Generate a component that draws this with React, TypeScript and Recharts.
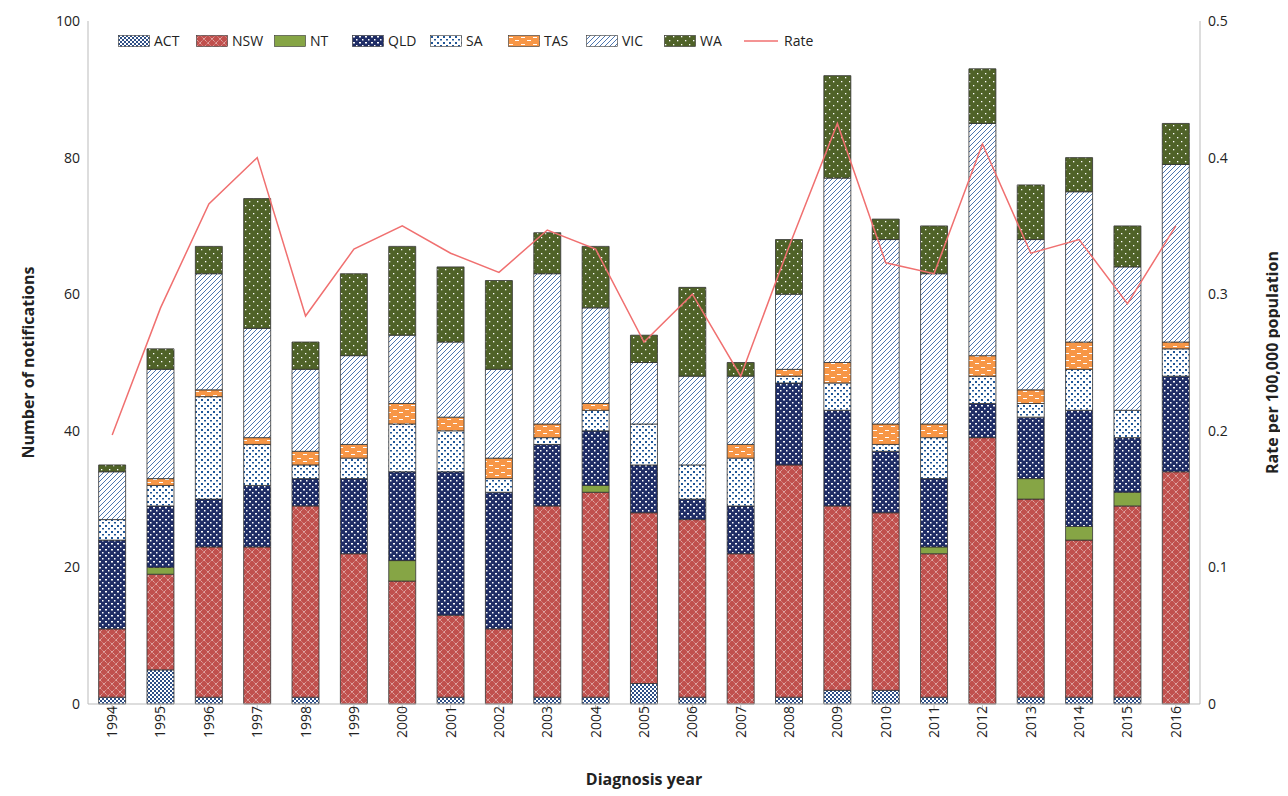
import { ComposedChart, Bar, Line, XAxis, YAxis } from "recharts";

const years = ["1994","1995","1996","1997","1998","1999","2000","2001","2002","2003","2004","2005","2006","2007","2008","2009","2010","2011","2012","2013","2014","2015","2016"];
const act = [1,5,1,0,1,0,0,1,0,1,1,3,1,0,1,2,2,1,0,1,1,1,0];
const nsw = [10,14,22,23,28,22,18,12,11,28,30,25,26,22,34,27,26,21,39,29,23,28,34];
const nt = [0,1,0,0,0,0,3,0,0,0,1,0,0,0,0,0,0,1,0,3,2,2,0];
const qld = [13,9,7,9,4,11,13,21,20,9,8,7,3,7,12,14,9,10,5,9,17,8,14];
const sa = [3,3,15,6,2,3,7,6,2,1,3,6,5,7,1,4,1,6,4,2,6,4,4];
const tas = [0,1,1,1,2,2,3,2,3,2,1,0,0,2,1,3,3,2,3,2,4,0,1];
const vic = [7,16,17,16,12,13,10,11,13,22,14,9,13,10,11,27,27,22,34,22,22,21,26];
const wa = [1,3,4,19,4,12,13,11,13,6,9,4,13,2,8,15,3,7,8,8,5,6,6];
const rate = [0.197,0.29,0.366,0.4,0.284,0.333,0.35,0.33,0.316,0.347,0.333,0.265,0.3,0.24,0.335,0.425,0.323,0.315,0.41,0.33,0.34,0.293,0.35];

const data = years.map((y, i) => ({
  year: y, ACT: act[i], NSW: nsw[i], NT: nt[i], QLD: qld[i], SA: sa[i], TAS: tas[i], VIC: vic[i], WA: wa[i], Rate: rate[i],
}));

const series = [
  { key: "ACT", fill: "url(#pAct)" },
  { key: "NSW", fill: "url(#pNsw)" },
  { key: "NT", fill: "#86A545" },
  { key: "QLD", fill: "url(#pQld)" },
  { key: "SA", fill: "url(#pSa)" },
  { key: "TAS", fill: "url(#pTas)" },
  { key: "VIC", fill: "url(#pVic)" },
  { key: "WA", fill: "url(#pWa)" },
];

const font = "'Open Sans', 'Liberation Sans', sans-serif";

function Patterns() {
  return (
    <svg width={0} height={0} style={{ position: "absolute" }}>
      <defs>
        <pattern id="pAct" width={4} height={4} patternUnits="userSpaceOnUse">
          <rect width={4} height={4} fill="#fff" />
          <rect width={2} height={2} fill="#2E4F86" />
          <rect x={2} y={2} width={2} height={2} fill="#2E4F86" />
        </pattern>
        <pattern id="pNsw" width={8} height={8} patternUnits="userSpaceOnUse">
          <rect width={8} height={8} fill="#C0504D" />
          <path d="M0 4 L4 0 L8 4 L4 8 Z" fill="none" stroke="#fff" strokeWidth={0.7} strokeDasharray="1 1" />
        </pattern>
        <pattern id="pQld" width={6} height={6} patternUnits="userSpaceOnUse">
          <rect width={6} height={6} fill="#1F2D66" />
          <rect x={1} y={1} width={2} height={1.5} fill="#fff" />
          <rect x={4} y={4} width={1.5} height={1.5} fill="#fff" />
        </pattern>
        <pattern id="pSa" width={6} height={6} patternUnits="userSpaceOnUse">
          <rect width={6} height={6} fill="#fff" />
          <rect x={1} y={1} width={2} height={2} fill="#1F5597" />
          <rect x={4} y={4} width={2} height={1.5} fill="#1F5597" />
        </pattern>
        <pattern id="pTas" width={12} height={7} patternUnits="userSpaceOnUse">
          <rect width={12} height={7} fill="#F79646" />
          <rect x={1} y={2} width={4} height={1} fill="#fff" />
          <rect x={7} y={5} width={4} height={1} fill="#fff" />
        </pattern>
        <pattern id="pVic" width={5} height={5} patternUnits="userSpaceOnUse">
          <rect width={5} height={5} fill="#fff" />
          <path d="M-1 1 L1 -1 M0 5 L5 0 M4 6 L6 4" stroke="#3A68A8" strokeWidth={0.9} />
        </pattern>
        <pattern id="pWa" width={8} height={8} patternUnits="userSpaceOnUse">
          <rect width={8} height={8} fill="#4F6228" />
          <rect x={1} y={1} width={1.3} height={1.3} fill="#fff" />
          <rect x={5} y={5} width={1.3} height={1.3} fill="#fff" />
        </pattern>
      </defs>
    </svg>
  );
}

function LegendContent() {
  return (
    <div style={{ position: "absolute", top: 23, left: 110, display: "flex", fontFamily: font, fontSize: 14, color: "#222" }}>
      {series.map((s) => (
        <div key={s.key} style={{ display: "flex", alignItems: "center", width: 78 }}>
          <svg width={32} height={12} style={{ marginRight: 4 }}>
            <rect x={0.5} y={0.5} width={31} height={11} fill={s.fill} stroke="#333" strokeWidth={0.6} />
          </svg>
          {s.key}
        </div>
      ))}
      <div style={{ display: "flex", alignItems: "center" }}>
        <svg width={38} height={12} style={{ marginRight: 4 }}>
          <line x1={2} y1={6} x2={36} y2={6} stroke="#F07070" strokeWidth={1.5} />
        </svg>
        Rate
      </div>
    </div>
  );
}

export default function App() {
  return (
    <div style={{ position: "relative", width: 1280, height: 788 }}>
      <Patterns />
      <ComposedChart width={1280} height={788} data={data} margin={{ top: 13, right: 38, left: 20, bottom: 42 }} barCategoryGap="22%">
        <XAxis
          dataKey="year"
          interval={0}
          angle={-90}
          textAnchor="end"
          dy={-6}
          dx={-5}
          height={50}
          tick={{ fill: "#222", fontFamily: font, fontSize: 14 }}
          stroke="#bbb"
          label={{ value: "Diagnosis year", position: "bottom", offset: 20, fill: "#222", fontFamily: font, fontSize: 16, fontWeight: 700 }}
        />
        <YAxis
          yAxisId="left"
          width={60}
          domain={[0, 100]}
          ticks={[0, 20, 40, 60, 80, 100]}
          tick={{ fill: "#222", fontFamily: font, fontSize: 14 }}
          stroke="#bbb"
          tickLine={false}
          label={{ value: "Number of notifications", angle: -90, position: "insideLeft", offset: 0, style: { textAnchor: "middle" }, fill: "#222", fontFamily: font, fontSize: 16, fontWeight: 700 }}
        />
        <YAxis
          yAxisId="right"
          orientation="right"
          width={50}
          domain={[0, 0.5]}
          ticks={[0, 0.1, 0.2, 0.3, 0.4, 0.5]}
          tickFormatter={(v) => (v === 0 ? "0" : v.toFixed(1))}
          tick={{ fill: "#222", fontFamily: font, fontSize: 14 }}
          stroke="#bbb"
          tickLine={false}
          label={{ value: "Rate per 100,000 population", angle: -90, position: "insideRight", offset: -22, style: { textAnchor: "middle" }, fill: "#222", fontFamily: font, fontSize: 16, fontWeight: 700 }}
        />
        {series.map((s) => (
          <Bar key={s.key} yAxisId="left" dataKey={s.key} stackId="a" fill={s.fill} stroke="#333" strokeWidth={0.8} isAnimationActive={false} />
        ))}
        <Line yAxisId="right" dataKey="Rate" stroke="#F07070" strokeWidth={1.5} dot={false} isAnimationActive={false} />
      </ComposedChart>
      <LegendContent />
    </div>
  );
}
